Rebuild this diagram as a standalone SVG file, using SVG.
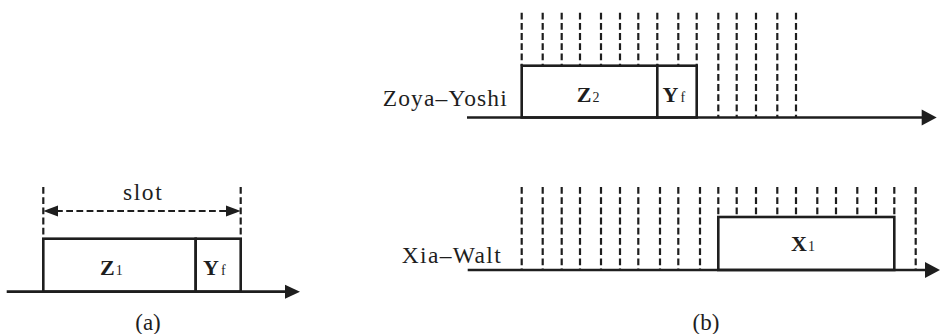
<svg xmlns="http://www.w3.org/2000/svg" width="940" height="334" viewBox="0 0 940 334">
  <style>
    .axis { stroke: #1e1e1e; stroke-width: 2.7; fill: none; }
    .head { fill: #1e1e1e; stroke: none; }
    .box { fill: #fff; stroke: #1e1e1e; stroke-width: 2.6; }
    .grid line { stroke: #1e1e1e; stroke-width: 2.2; stroke-dasharray: 6.8 3.4; }
    .span { stroke: #1e1e1e; stroke-width: 2.2; stroke-dasharray: 6.8 3.4; fill: none; }
    .t { font-family: "Liberation Serif", "Times New Roman", serif; fill: #1e1e1e; }
    .lbl { font-size: 23.5px; }
    .cap { font-size: 23px; }
    .sym { font-size: 22px; font-weight: bold; }
    .sub { font-size: 14px; font-weight: normal; }
  </style>

  <rect width="940" height="334" fill="#fff"/>

  <!-- (a): one slot -->
  <g id="slot-a-guides" class="grid">
    <line x1="43.3" y1="187" x2="43.3" y2="239"/>
    <line x1="240.7" y1="187" x2="240.7" y2="239"/>
  </g>
  <g id="slot-a-span">
    <line class="span" x1="56" y1="211" x2="228" y2="211"/>
    <polygon class="head" points="43.3,211 58,205.5 58,216.5"/>
    <polygon class="head" points="240.7,211 226,205.5 226,216.5"/>
    <text class="t lbl" x="123" y="200" textLength="38.7" lengthAdjust="spacing">slot</text>
  </g>
  <g id="box-z1">
    <rect class="box" x="43.3" y="238.7" width="152.4" height="53"/>
    <text class="t sym" x="100" y="275">Z<tspan class="sub" dx="1">1</tspan></text>
  </g>
  <g id="box-yf-a">
    <rect class="box" x="195.7" y="238.7" width="45" height="53"/>
    <text class="t sym" x="203" y="275">Y<tspan class="sub" dx="2">f</tspan></text>
  </g>

  <!-- (b): Zoya–Yoshi link -->
  <g id="grid-top" class="grid">
    <line x1="521.7" y1="12.7" x2="521.7" y2="65.7"/>
    <line x1="542.7" y1="12.7" x2="542.7" y2="65.7"/>
    <line x1="561.7" y1="12.7" x2="561.7" y2="65.7"/>
    <line x1="580" y1="12.7" x2="580" y2="65.7"/>
    <line x1="601" y1="12.7" x2="601" y2="65.7"/>
    <line x1="620" y1="12.7" x2="620" y2="65.7"/>
    <line x1="638.3" y1="12.7" x2="638.3" y2="65.7"/>
    <line x1="657.3" y1="12.7" x2="657.3" y2="65.7"/>
    <line x1="678.3" y1="12.7" x2="678.3" y2="65.7"/>
    <line x1="696.7" y1="12.7" x2="696.7" y2="65.7"/>
    <line x1="718.3" y1="12.7" x2="718.3" y2="117"/>
    <line x1="736.7" y1="12.7" x2="736.7" y2="117"/>
    <line x1="756" y1="12.7" x2="756" y2="117"/>
    <line x1="777.3" y1="12.7" x2="777.3" y2="117"/>
    <line x1="796" y1="12.7" x2="796" y2="117"/>
  </g>
  <g id="box-z2">
    <rect class="box" x="521.7" y="65.7" width="135.6" height="51.8"/>
    <text class="t sym" x="576.7" y="102">Z<tspan class="sub" dx="1">2</tspan></text>
  </g>
  <g id="box-yf-b">
    <rect class="box" x="657.3" y="65.7" width="39.4" height="51.8"/>
    <text class="t sym" x="662.5" y="102">Y<tspan class="sub" dx="2">f</tspan></text>
  </g>
  <text id="label-zoya-yoshi" class="t lbl" x="382.7" y="106" textLength="124" lengthAdjust="spacing">Zoya–Yoshi</text>

  <!-- (b): Xia–Walt link -->
  <g id="grid-bottom" class="grid">
    <line x1="521.7" y1="187" x2="521.7" y2="270"/>
    <line x1="542.7" y1="187" x2="542.7" y2="270"/>
    <line x1="561.7" y1="187" x2="561.7" y2="270"/>
    <line x1="580" y1="187" x2="580" y2="270"/>
    <line x1="601" y1="187" x2="601" y2="270"/>
    <line x1="620" y1="187" x2="620" y2="270"/>
    <line x1="638.3" y1="187" x2="638.3" y2="270"/>
    <line x1="660" y1="187" x2="660" y2="270"/>
    <line x1="678.3" y1="187" x2="678.3" y2="270"/>
    <line x1="700" y1="187" x2="700" y2="270"/>
    <line x1="718.3" y1="187" x2="718.3" y2="217"/>
    <line x1="736.7" y1="187" x2="736.7" y2="217"/>
    <line x1="756" y1="187" x2="756" y2="217"/>
    <line x1="777.3" y1="187" x2="777.3" y2="217"/>
    <line x1="796" y1="187" x2="796" y2="217"/>
    <line x1="817.3" y1="187" x2="817.3" y2="217"/>
    <line x1="836" y1="187" x2="836" y2="217"/>
    <line x1="857.3" y1="187" x2="857.3" y2="217"/>
    <line x1="876" y1="187" x2="876" y2="217"/>
    <line x1="894.3" y1="187" x2="894.3" y2="217"/>
    <line x1="915.7" y1="187" x2="915.7" y2="270"/>
  </g>
  <g id="box-x1">
    <rect class="box" x="718.3" y="217" width="176" height="53"/>
    <text class="t sym" x="791" y="251">X<tspan class="sub" dx="1">1</tspan></text>
  </g>
  <text id="label-xia-walt" class="t lbl" x="401.7" y="262.7" textLength="99" lengthAdjust="spacing">Xia–Walt</text>

  <!-- time axes -->
  <g id="connectors">
    <line class="axis" x1="6.7" y1="291.7" x2="287" y2="291.7"/>
    <polygon class="head" points="300,291.7 285,284.7 285,298.7"/>
    <line class="axis" x1="467" y1="117.5" x2="923" y2="117.5"/>
    <polygon class="head" points="936.7,117.5 921.7,109.5 921.7,125.5"/>
    <line class="axis" x1="467.7" y1="270" x2="926" y2="270"/>
    <polygon class="head" points="940,270 925,262 925,278"/>
  </g>

  <!-- panel captions -->
  <text class="t cap" x="148" y="330" text-anchor="middle">(a)</text>
  <text class="t cap" x="706" y="330" text-anchor="middle">(b)</text>
</svg>
